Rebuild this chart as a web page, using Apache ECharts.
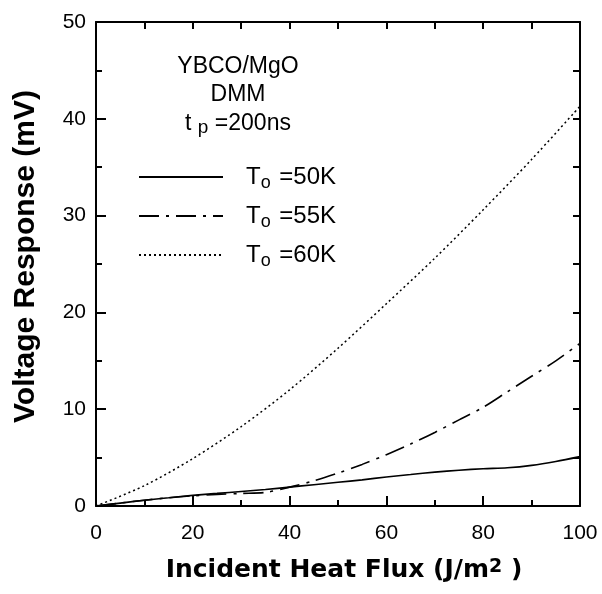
<!DOCTYPE html>
<html><head><meta charset="utf-8">
<script src="https://cdn.jsdelivr.net/npm/echarts@6/dist/echarts.min.js"></script>
<style>html,body{margin:0;padding:0;background:#fff}#c{width:602px;height:594px}</style>
</head><body><div id="c"></div>
<script>
const xSolid = [0,5,10,15,20,25,30,35,40,45,50,55,60,65,70,75,80,85,90,95,100];
const ySolid = [0,0.3,0.6,0.85,1.1,1.3,1.5,1.7,1.95,2.2,2.45,2.7,3.0,3.25,3.5,3.7,3.85,3.95,4.2,4.6,5.1];
const xDashDot = [0,5,10,15,20,25,30,35,40,45,50,55,60,65,70,75,80,85,90,95,100];
const yDashDot = [0,0.3,0.6,0.85,1.05,1.2,1.3,1.4,1.95,2.6,3.4,4.3,5.3,6.4,7.6,8.9,10.2,11.8,13.4,15.0,16.8];
const xDotted = [0,10,20,30,40,50,60,70,80,90,100];
const yDotted = [0,2.1,4.9,8.2,12.0,16.3,20.9,25.6,30.6,35.8,41.3];
const seriesNames = ['50K','55K','60K'];
const xTicks = [0,20,40,60,80,100];
const yTicks = [0,10,20,30,40,50];

const pair = (xs, ys) => xs.map((x,i)=>[x, ys[i]]);
const FONT = '"Liberation Sans", Arial, sans-serif';
const BFONT = '"DejaVu Sans", sans-serif';
const chart = echarts.init(document.getElementById('c'));
const lineBase = {type:'line', xAxisIndex:0, yAxisIndex:0, showSymbol:false, symbol:'none', smooth:0.3, animation:false};
chart.setOption({
  animation:false,
  grid:{left:96, right:22, top:22, bottom:88},
  legend:{
    orient:'vertical', left:133, top:160, itemWidth:84, itemHeight:14, itemGap:12,
    data:seriesNames,
    itemStyle:{opacity:0, borderWidth:0},
    formatter: n => '{a|T}{s|o}{b| =' + n + '}',
    textStyle:{color:'#000', fontFamily:FONT, fontSize:24,
      rich:{
        a:{fontFamily:FONT, fontSize:24, color:'#000', padding:[0,0,0,18]},
        s:{fontFamily:FONT, fontSize:18, color:'#000', verticalAlign:'bottom', padding:[12,2,0,0]},
        b:{fontFamily:FONT, fontSize:24, color:'#000'}
      }}
  },
  graphic:[{
    type:'text', z:10,
    position:[238,52],
    style:{
      text:'{m|YBCO/MgO}\n{m|DMM}\n{m|t }{s|p}{m| =200ns}',
      align:'center', verticalAlign:'top', fill:'#000',
      rich:{
        m:{fontFamily:FONT, fontSize:23, lineHeight:28.5, fill:'#000'},
        s:{fontFamily:FONT, fontSize:19, lineHeight:28.5, fill:'#000', padding:[9,0,0,0]}
      }
    }
  }],
  xAxis:[{
    type:'value', min:0, max:100, interval:20, position:'bottom',
    name:'Incident Heat Flux (J/m{sup|2} )', nameLocation:'middle', nameGap:52,
    nameTextStyle:{fontFamily:BFONT, fontSize:25, fontWeight:'bold', color:'#000', padding:[0,0,0,12],
      rich:{sup:{fontFamily:BFONT, fontSize:19, fontWeight:'bold', color:'#000', padding:[0,0,6,0]}}},
    axisLine:{show:true, onZero:false, lineStyle:{color:'#000', width:2}},
    axisTick:{show:true, inside:true, length:10, lineStyle:{color:'#000', width:2}},
    minorTick:{show:true, splitNumber:2, length:6, lineStyle:{color:'#000', width:2}},
    axisLabel:{color:'#000', fontFamily:FONT, fontSize:21, margin:17,
      formatter: v => xTicks.includes(v) ? String(v) : ''},
    splitLine:{show:false}
  },{
    type:'value', min:0, max:100, interval:10, position:'top',
    axisLine:{show:true, onZero:false, lineStyle:{color:'#000', width:2}},
    axisTick:{show:true, inside:true, length:7, lineStyle:{color:'#000', width:2}},
    axisLabel:{show:false}, splitLine:{show:false}
  }],
  yAxis:[{
    type:'value', min:0, max:50, interval:10, position:'left',
    name:'Voltage Response (mV)', nameLocation:'middle', nameGap:55,
    nameTextStyle:{fontFamily:FONT, fontSize:30, fontWeight:'bold', color:'#000', padding:[0,0,0,15]},
    axisLine:{show:true, onZero:false, lineStyle:{color:'#000', width:2}},
    axisTick:{show:true, inside:true, length:10, lineStyle:{color:'#000', width:2}},
    minorTick:{show:true, splitNumber:2, length:6, lineStyle:{color:'#000', width:2}},
    axisLabel:{color:'#000', fontFamily:FONT, fontSize:21, margin:10,
      formatter: v => yTicks.includes(v) ? String(v) : ''},
    splitLine:{show:false}
  },{
    type:'value', min:0, max:50, interval:5, position:'right',
    axisLine:{show:true, onZero:false, lineStyle:{color:'#000', width:2}},
    axisTick:{show:true, inside:true, length:7, lineStyle:{color:'#000', width:2}},
    axisLabel:{show:false}, splitLine:{show:false}
  }],
  series:[
    Object.assign({}, lineBase, {name:seriesNames[0], data:pair(xSolid,ySolid),
      itemStyle:{color:'#000'}, lineStyle:{color:'#000', width:1.6, type:'solid'}}),
    Object.assign({}, lineBase, {name:seriesNames[1], data:pair(xDashDot,yDashDot),
      itemStyle:{color:'#000'}, lineStyle:{color:'#000', width:1.6, type:[20,7,3,7]}}),
    Object.assign({}, lineBase, {name:seriesNames[2], data:pair(xDotted,yDotted),
      itemStyle:{color:'#000'}, lineStyle:{color:'#000', width:1.5, type:[2,3]}})
  ]
});
</script></body></html>
